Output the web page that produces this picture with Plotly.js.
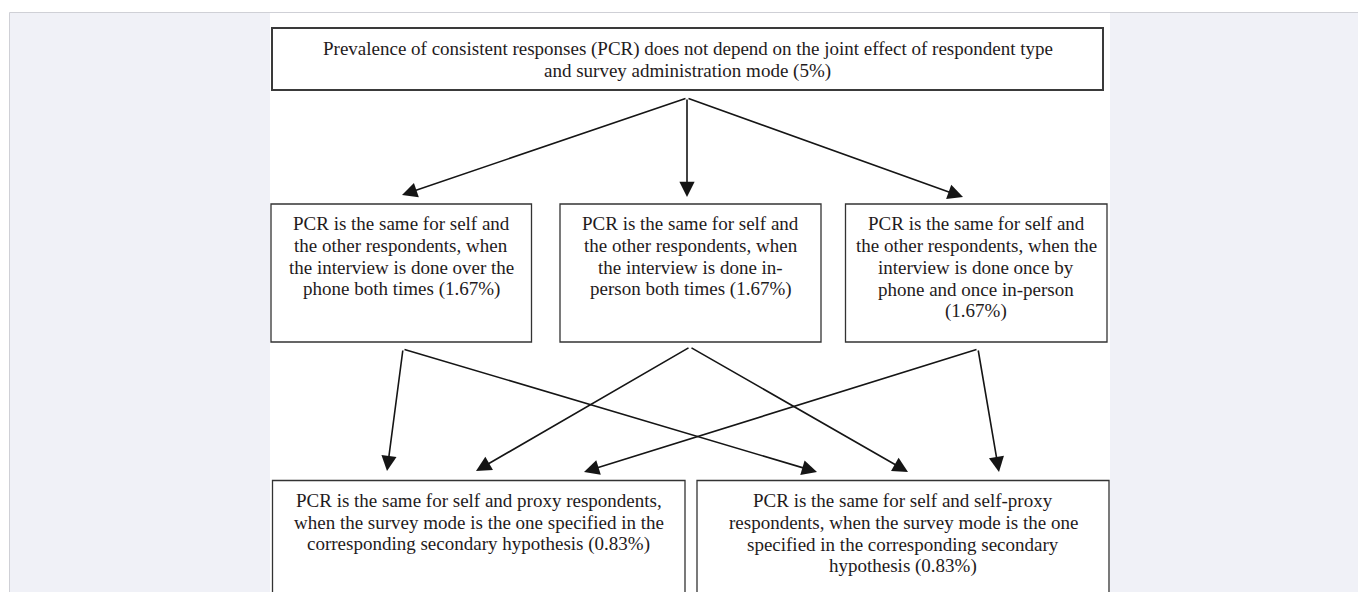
<!DOCTYPE html>
<html>
<head>
<meta charset="utf-8">
<script src="https://cdn.plot.ly/plotly-3.0.1.min.js"></script>
<style>html,body{margin:0;padding:0;background:#fff;}#chart{width:1358px;height:592px;}</style>
</head>
<body>
<div id="chart"></div>
<script>
// ---- data: node texts (one entry per line) ----
const topNode = ["Prevalence of consistent responses (PCR) does not depend on the joint effect of respondent type",
                 "and survey administration mode (5%)"];
const midPhone = ["PCR is the same for self and", "the other respondents, when", "the interview is done over the", "phone both times (1.67%)"];
const midPerson = ["PCR is the same for self and", "the other respondents, when", "the interview is done in-", "person both times (1.67%)"];
const midMixed = ["PCR is the same for self and", "the other respondents, when the", "interview is done once by", "phone and once in-person", "(1.67%)"];
const botProxy = ["PCR is the same for self and proxy respondents,", "when the survey mode is the one specified in the", "corresponding secondary hypothesis (0.83%)"];
const botSelfProxy = ["PCR is the same for self and self-proxy", "respondents, when the survey mode is the one", "specified in the corresponding secondary", "hypothesis (0.83%)"];
const nodeTexts = [topNode, midPhone, midPerson, midMixed, botProxy, botSelfProxy];
// edges: [from, to]
const edgeFrom = [0, 0, 0, 1, 1, 2, 2, 3, 3];
const edgeTo   = [1, 2, 3, 4, 5, 4, 5, 4, 5];

// ---- layout (pixel positions) ----
const boxX0 = [272, 271, 560, 845.5, 272.5, 697];
const boxX1 = [1103, 531.5, 821, 1107, 685, 1109];
const boxY0 = [28, 204, 204, 204, 480.5, 480.5];
const boxY1 = [90, 342, 342, 342, 640, 640];
const firstLineY = [48.5, 223, 223, 223, 500, 500];
const lineGap = 22;
const srcX = [687, 403, 690, 978];
const srcY = [98, 349, 347, 349];
const tipX = [402, 687, 963, 387, 817, 476, 908, 584, 999];
const tipY = [195, 197, 197, 471, 472, 471, 472, 472, 472];

const FONT = "Liberation Serif, Times New Roman, serif";
const shapes = [];
const annotations = [];

// page background panel
shapes.push({type:'rect', xref:'x', yref:'y', x0:9.5, x1:1400, y0:12.5, y1:700,
  fillcolor:'#f0f1f7', line:{color:'#cfd0d6', width:1}, layer:'below'});
// figure white area
shapes.push({type:'rect', xref:'x', yref:'y', x0:270, x1:1110, y0:13, y1:700,
  fillcolor:'#ffffff', line:{width:0}, layer:'below'});

nodeTexts.forEach((lines, i) => {
  shapes.push({type:'rect', xref:'x', yref:'y', x0:boxX0[i], x1:boxX1[i], y0:boxY0[i], y1:boxY1[i],
    fillcolor:'rgba(0,0,0,0)', line:{color: i === 0 ? '#3a3a3a' : '#333333', width: i === 0 ? 2 : 1.3}});
  const cx = (boxX0[i] + boxX1[i]) / 2;
  lines.forEach((t, k) => {
    annotations.push({xref:'x', yref:'y', x:cx, y:firstLineY[i] + k*lineGap, text:t, showarrow:false,
      xanchor:'center', yanchor:'middle', font:{family:FONT, size:19, color:'#1f1b1c'}});
  });
});

edgeFrom.forEach((f, e) => {
  annotations.push({xref:'x', yref:'y', axref:'x', ayref:'y',
    x:tipX[e], y:tipY[e], ax:srcX[f], ay:srcY[f], text:'', showarrow:true,
    arrowhead:2, arrowsize:1.9, arrowwidth:1.6, arrowcolor:'#151515', standoff:0, startstandoff:0});
});

const layout = {
  width:1358, height:592, margin:{l:0, r:0, t:0, b:0},
  paper_bgcolor:'#ffffff', plot_bgcolor:'rgba(0,0,0,0)',
  xaxis:{range:[0,1358], visible:false, fixedrange:true},
  yaxis:{range:[592,0], visible:false, fixedrange:true},
  shapes:shapes, annotations:annotations, showlegend:false
};
Plotly.newPlot('chart', [{x:[], y:[], type:'scatter', mode:'markers', hoverinfo:'skip'}], layout, {displayModeBar:false, staticPlot:true});
</script>
</body>
</html>
